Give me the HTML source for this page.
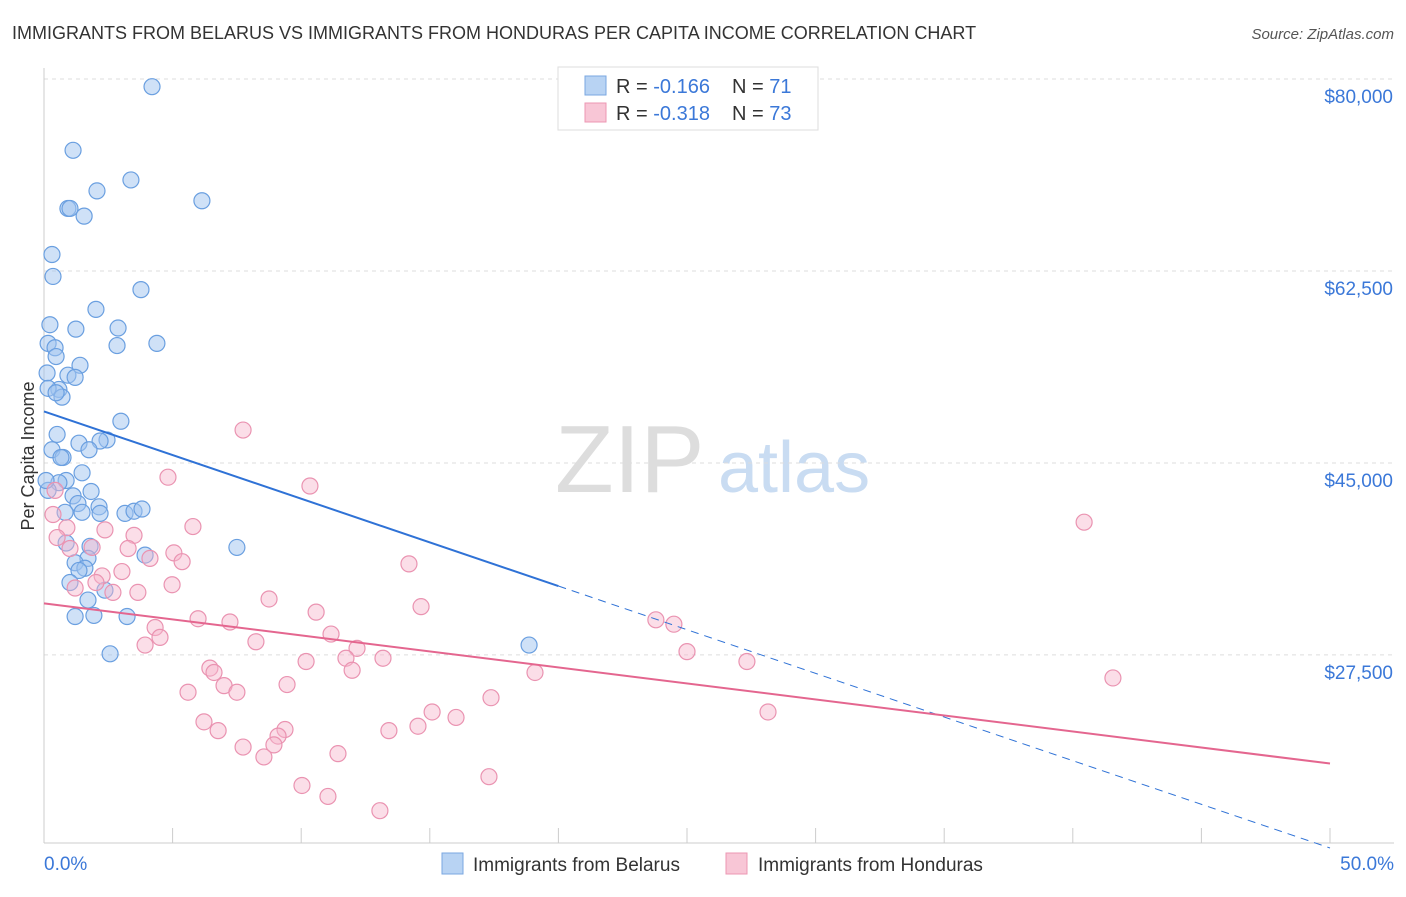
<!DOCTYPE html>
<html><head><meta charset="utf-8">
<style>
body{margin:0;background:#fff;font-family:"Liberation Sans",sans-serif;}
svg text{font-family:"Liberation Sans",sans-serif;}
</style></head>
<body>
<svg id="chart" width="1406" height="892" xmlns="http://www.w3.org/2000/svg">
<text x="12" y="39" font-size="18" fill="#333">IMMIGRANTS FROM BELARUS VS IMMIGRANTS FROM HONDURAS PER CAPITA INCOME CORRELATION CHART</text>
<text x="1394" y="39" font-size="15" fill="#555" text-anchor="end" font-style="italic">Source: ZipAtlas.com</text>
<text x="555" y="492" font-size="96" fill="#ddd" font-family="Liberation Serif">ZIP</text>
<text x="718" y="492" font-size="72" fill="#c9dcf2">atlas</text>
<text transform="translate(34,456) rotate(-90)" font-size="18" fill="#333" text-anchor="middle">Per Capita Income</text>
<g id="grid"></g>
<g id="axes"></g>
<g id="pts"></g>
<g id="trend"></g>
<g>
<rect x="558" y="67" width="260" height="63" fill="#fff" stroke="#ddd"/>
<rect x="585" y="76" width="21" height="19" fill="#b8d3f3" stroke="#7aa7e0"/>
<rect x="585" y="103" width="21" height="19" fill="#f8c6d6" stroke="#ec97b3"/>
<text x="616" y="93" font-size="20" fill="#333">R = <tspan fill="#3b78d8">-0.166</tspan><tspan x="732">N = </tspan><tspan fill="#3b78d8">71</tspan></text>
<text x="616" y="120" font-size="20" fill="#333">R = <tspan fill="#3b78d8">-0.318</tspan><tspan x="732">N = </tspan><tspan fill="#3b78d8">73</tspan></text>
</g>
<g>
<rect x="442" y="853" width="21" height="21" fill="#b8d3f3" stroke="#7aa7e0"/>
<text x="473" y="871" font-size="19" fill="#333">Immigrants from Belarus</text>
<rect x="726" y="853" width="21" height="21" fill="#f8c6d6" stroke="#ec97b3"/>
<text x="758" y="871" font-size="19" fill="#333">Immigrants from Honduras</text>
</g>
</svg>
<script>
const yTicks=[80000,62500,45000,27500];
const yTickLabels=["$80,000","$62,500","$45,000","$27,500"];
const xEndLabels=["0.0%","50.0%"];
const belarusX=[4.2,1.13,3.38,2.06,0.93,1.01,1.56,6.14,0.31,0.35,3.77,2.02,0.23,1.24,2.88,2.84,4.39,0.16,0.43,0.47,1.40,0.93,1.21,0.12,0.58,0.70,0.16,0.47,2.99,0.51,2.45,2.18,1.36,1.75,0.31,0.74,0.66,1.48,0.86,0.58,1.83,1.13,1.32,2.14,2.18,0.82,1.48,3.15,3.50,3.81,7.50,0.86,1.79,3.93,1.71,1.21,1.59,1.36,1.01,2.37,1.71,1.21,1.94,3.23,2.57,18.86,0.16,0.08];
const belarusY=[79.3,73.5,70.8,69.8,68.2,68.2,67.5,68.9,64.0,62.0,60.8,59.0,57.6,57.2,57.3,55.7,55.9,55.9,55.5,54.7,53.9,53.0,52.8,53.2,51.7,51.0,51.8,51.4,48.8,47.6,47.1,47.0,46.8,46.2,46.2,45.5,45.5,44.1,43.4,43.2,42.4,42.0,41.3,41.0,40.4,40.5,40.5,40.4,40.6,40.8,37.3,37.7,37.4,36.6,36.3,35.9,35.4,35.2,34.1,33.4,32.5,31.0,31.1,31.0,27.6,28.4,42.5,43.4];
const hondurasX=[7.74,4.82,10.34,40.44,0.43,0.35,0.89,5.79,2.37,0.51,3.50,1.01,1.87,3.27,5.05,4.12,5.37,14.19,3.03,2.26,2.02,1.21,2.68,3.65,4.98,8.75,14.66,10.58,23.79,24.49,5.99,7.23,4.32,4.51,3.93,11.16,8.24,12.17,25.0,27.33,10.19,11.74,13.18,11.98,19.09,6.45,6.61,41.56,7.0,9.45,5.60,7.50,17.38,28.15,15.09,16.02,6.22,6.77,9.37,14.54,13.41,9.10,8.94,7.74,11.43,8.55,17.30,10.03,11.04,13.06];
const hondurasY=[48.0,43.7,42.9,39.6,42.5,40.3,39.1,39.2,38.9,38.2,38.4,37.2,37.3,37.2,36.8,36.3,36.0,35.8,35.1,34.7,34.1,33.6,33.2,33.2,33.9,32.6,31.9,31.4,30.7,30.3,30.8,30.5,30.0,29.1,28.4,29.4,28.7,28.1,27.8,26.9,26.9,27.2,27.2,26.1,25.9,26.3,25.9,25.4,24.7,24.8,24.1,24.1,23.6,22.3,22.3,21.8,21.4,20.6,20.7,21.0,20.6,20.1,19.3,19.1,18.5,18.2,16.4,15.6,14.6,13.3];
const belarusTrend=[49.7,9.9];
const hondurasTrend=[32.2,17.6];
const xs=v=>44+v*25.72;
const ys=k=>79+(80-k)*10.97;
const NS="http://www.w3.org/2000/svg";
function mk(tag,attrs,parent){const e=document.createElementNS(NS,tag);for(const k in attrs)e.setAttribute(k,attrs[k]);parent.appendChild(e);return e;}
const grid=document.getElementById('grid'),axes=document.getElementById('axes'),pts=document.getElementById('pts'),tr=document.getElementById('trend');
yTicks.forEach((t,i)=>{
 const y=ys(t/1000);
 const l=mk('line',{x1:44,x2:1394,y1:y,y2:y,stroke:'#ddd','stroke-dasharray':'4,4'},grid);
 
 
 const tx=mk('text',{x:1393,y:y+24,'font-size':19,fill:'#3b78d8','text-anchor':'end'},axes);
 tx.textContent=yTickLabels[i];
 
 
});
const xa=mk('line',{x1:44,x2:1394,y1:843,y2:843,stroke:'#ccc'},axes);


const ya=mk('line',{x1:44,x2:44,y1:68,y2:843,stroke:'#ccc'},axes);


for(let i=0;i<=10;i++){
 const x=xs(i*5);
 const tk=mk('line',{x1:x,x2:x,y1:828,y2:843,stroke:'#ccc'},axes);
 
 
}
[[0,'start',44],[1,'end',1394]].forEach(([i,a,x])=>{
 const t=mk('text',{x:x,y:870,'font-size':19,fill:'#3b78d8','text-anchor':a},axes);
 t.textContent=xEndLabels[i];
 
 
});
belarusX.forEach((v,i)=>{
 const c=mk('circle',{cx:xs(v),cy:ys(belarusY[i]),r:8,fill:'rgba(160,196,240,0.5)',stroke:'#6a9fe0','stroke-width':1.2},pts);
 
 
});
hondurasX.forEach((v,i)=>{
 const c=mk('circle',{cx:xs(v),cy:ys(hondurasY[i]),r:8,fill:'rgba(246,182,204,0.45)',stroke:'#ea93b1','stroke-width':1.2},pts);
 
 
});
const bAt=x=>belarusTrend[0]+(belarusTrend[1]-belarusTrend[0])*x/50;
const b1=mk('line',{x1:xs(0),y1:ys(bAt(0)),x2:xs(20),y2:ys(bAt(20)),stroke:'#2f72d6','stroke-width':2},tr);


const b2=mk('line',{x1:xs(20),y1:ys(bAt(20)),x2:xs(50),y2:ys(bAt(50)),stroke:'#2f72d6','stroke-width':1,'stroke-dasharray':'8,6'},tr);


const h1=mk('line',{x1:xs(0),y1:ys(hondurasTrend[0]),x2:xs(50),y2:ys(hondurasTrend[1]),stroke:'#e4668f','stroke-width':2},tr);


</script>
</body></html>
